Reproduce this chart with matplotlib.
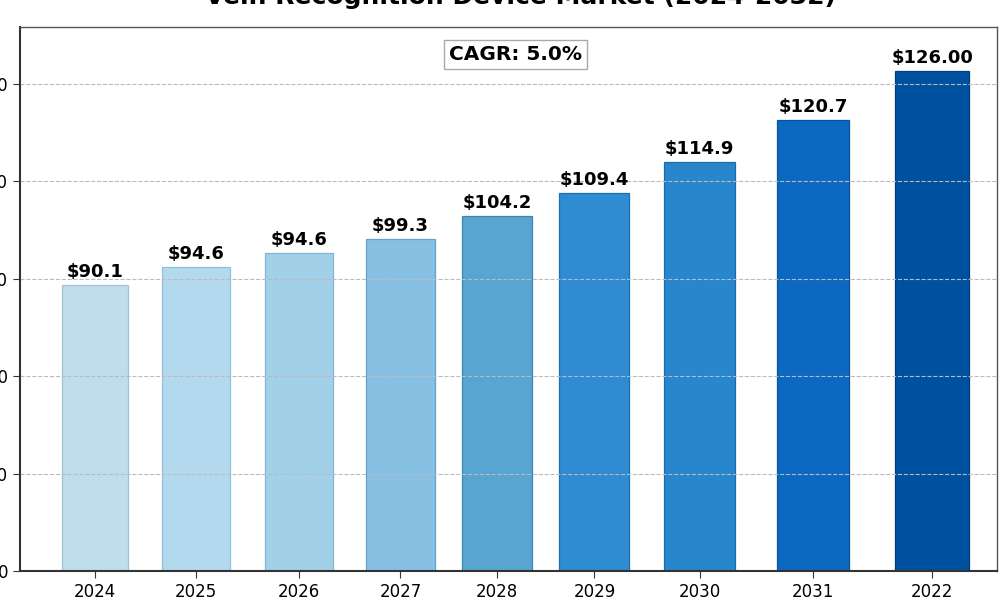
import matplotlib
matplotlib.use("Agg")
import matplotlib.pyplot as plt

# ── data ──────────────────────────────────────────────────────────────────────
years = ["2024", "2025", "2026", "2027", "2028", "2029", "2030", "2031", "2022"]
heights = [58.7, 62.4, 65.3, 68.2, 72.9, 77.6, 84.0, 92.6, 102.7]
labels = ["$90.1", "$94.6", "$94.6", "$99.3", "$104.2", "$109.4", "$114.9", "$120.7", "$126.00"]
y_ticks = [0, 20, 40, 60, 80, 100]
cagr_text = "CAGR: 5.0%"
title = "Vein Recognition Device Market (2024-2032)"

# ── layout / style ────────────────────────────────────────────────────────────
x_pos = [0, 0.963, 1.946, 2.917, 3.839, 4.772, 5.776, 6.861, 8.0]
widths = [0.631, 0.645, 0.647, 0.657, 0.669, 0.669, 0.679, 0.689, 0.705]
colors = ["#c0ddec", "#b3d9ef", "#a3d0e9", "#86c1e4", "#57a5d0",
          "#2f8bd2", "#2786cc", "#0b69c2", "#0050a0"]
edges = ["#9cc3d8", "#90c0da", "#80b6d4", "#62a3cc", "#3a86b6",
         "#1f6fb0", "#1a6aa8", "#0a529a", "#003e80"]

# ── plot ──────────────────────────────────────────────────────────────────────
fig = plt.figure(figsize=(10, 6), dpi=100)
ax = fig.add_axes([0.02, 0.0483, 0.977, 0.9067])

bars = ax.bar(x_pos, heights, width=widths, color=colors, edgecolor=edges, linewidth=0.9)

for b, lab in zip(bars, labels):
    ax.annotate(lab, (b.get_x() + b.get_width() / 2, b.get_height()),
                xytext=(0, 3), textcoords="offset points",
                ha="center", va="bottom", fontsize=13, fontweight="bold")

ax.set_xlim(-0.72, 8.62)
ax.set_ylim(0, 111.7)
ax.set_xticks(x_pos)
ax.set_xticklabels(years, fontsize=12)
ax.set_yticks(y_ticks)
ax.set_yticklabels([str(t) for t in y_ticks], fontsize=12)
ax.tick_params(length=5, color="#333333")

ax.grid(True, axis="y", linestyle="--", color="#bbbbbb", linewidth=0.8)

for side in ["left", "bottom"]:
    ax.spines[side].set_linewidth(1.5)
    ax.spines[side].set_color("#333333")
for side in ["top", "right"]:
    ax.spines[side].set_linewidth(1.0)
    ax.spines[side].set_color("#555555")

ax.text(0.507, 0.949, cagr_text, transform=ax.transAxes, ha="center", va="center",
        fontsize=14.5, fontweight="bold",
        bbox=dict(boxstyle="square,pad=0.25", facecolor="white", edgecolor="#aaaaaa"))

fig.text(0.52, 0.985, title, ha="center", va="bottom", fontsize=18, fontweight="bold")

fig.savefig("out.png", dpi=100)
